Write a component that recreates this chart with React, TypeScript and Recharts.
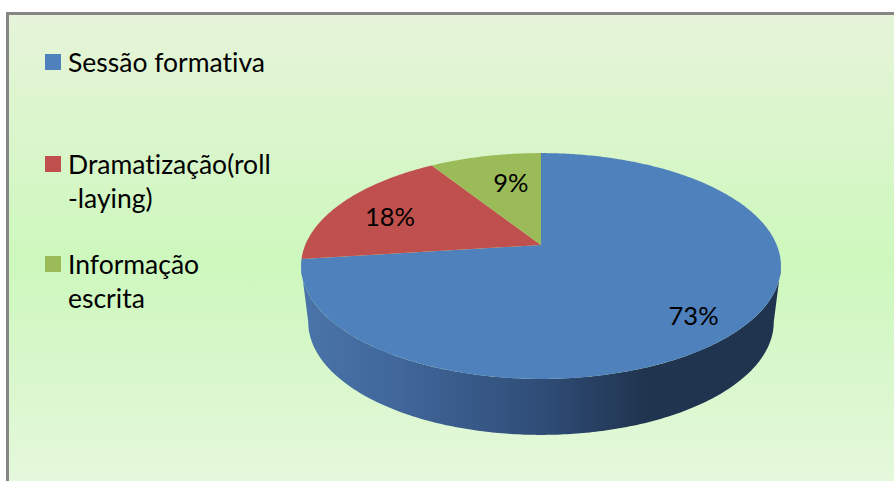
import React from "react";
import { PieChart, Pie, Legend } from "recharts";

const categories = ["Sessão formativa", "Dramatização(roll\n-laying)", "Informação\nescrita"];
const values = [73, 18, 9];
const colors = ["#4f81bd", "#c0504d", "#9bbb59"];
const tableData = categories.map((name, i) => ({ name, value: values[i], fill: colors[i] }));

const W = 894;
const H = 481;
const CX = 541;
const CY = 245;
const R = 109; // vertical half-scale of the tilted disc
const X_STRETCH = 2.163;
const PERSPECTIVE = 0.186;
const DEPTH = 56;
const BOTTOM_SCALE = 0.97;
const WALL_LEFT = -169.3; // silhouette tangent angles of the tilted rim
const WALL_RIGHT = -10.7;
const LABEL_R = [0.78, 0.75, 0.5];
const LABEL_DY = [8, 4, -15];
const LEGEND_TOP = [46, 148, 248];
const FONT = "Lato, 'Open Sans', sans-serif";
const RAD = Math.PI / 180;

// Recharts angle (degrees, counter-clockwise from 3 o'clock) to the tilted disc.
function project(cx: number, cy: number, radius: number, deg: number, r = 1) {
  const u = Math.cos(deg * RAD) * r;
  const v = -Math.sin(deg * RAD) * r;
  const d = 1 - PERSPECTIVE * v;
  return { x: cx + (radius * X_STRETCH * u) / d, y: cy + (radius * v) / d };
}
function arcPoints(cx: number, cy: number, radius: number, a0: number, a1: number) {
  const n = Math.max(2, Math.ceil(Math.abs(a1 - a0) * 1.5));
  const pts = [];
  for (let i = 0; i <= n; i++) pts.push(project(cx, cy, radius, a0 + ((a1 - a0) * i) / n));
  return pts;
}
const toPath = (pts: { x: number; y: number }[]) =>
  pts.map((p, i) => `${i ? "L" : "M"}${p.x.toFixed(2)},${p.y.toFixed(2)}`).join(" ");

function Slice(props: any) {
  const { cx, cy, outerRadius, startAngle, endAngle, fill, index } = props;
  const top = arcPoints(cx, cy, outerRadius, startAngle, endAngle);
  // Front wall: only the part of the rim facing the viewer
  const a0 = Math.max(Math.min(startAngle, endAngle), WALL_LEFT);
  const a1 = Math.min(Math.max(startAngle, endAngle), WALL_RIGHT);
  let wall = null;
  if (a1 > a0) {
    const upper = arcPoints(cx, cy, outerRadius, a0, a1);
    const lower = upper
      .slice()
      .reverse()
      .map((p) => ({ x: cx + (p.x - cx) * BOTTOM_SCALE, y: p.y + DEPTH }));
    wall = <path d={`${toPath(upper)} ${toPath(lower).replace("M", "L")} Z`} fill={`url(#wall-${index})`} />;
  }
  return (
    <g>
      <defs>
        <linearGradient id={`wall-${index}`} gradientUnits="userSpaceOnUse" x1={305} x2={778} y1={0} y2={0}>
          <stop offset="0" stopColor="#4a74a9" />
          <stop offset="0.2" stopColor="#40669a" />
          <stop offset="0.5" stopColor="#2f4d77" />
          <stop offset="0.72" stopColor="#20344f" />
          <stop offset="1" stopColor="#20344f" />
        </linearGradient>
      </defs>
      {wall}
      <path d={`M${cx},${cy} ${toPath(top).replace("M", "L")} Z`} fill={fill} />
    </g>
  );
}

function SliceLabel(props: any) {
  const { cx, cy, midAngle, index, value, outerRadius } = props;
  const p = project(cx, cy, outerRadius, midAngle, LABEL_R[index]);
  return (
    <text x={p.x} y={p.y + LABEL_DY[index]} textAnchor="middle" dominantBaseline="central" fill="#000" fontFamily={FONT} fontSize={25.5}>
      {`${value}%`}
    </text>
  );
}

function LegendContent({ payload }: any) {
  return (
    <div style={{ position: "relative", width: 300, height: 300 }}>
      {(payload || []).map((item: any, i: number) => (
        <div key={i} style={{ position: "absolute", left: 45, top: LEGEND_TOP[i], display: "flex" }}>
          <span style={{ width: 16, height: 16, marginTop: 8, marginRight: 7, background: item.color, flex: "none" }} />
          <span
            style={{
              fontFamily: FONT,
              fontSize: 26.5,
              fontVariantLigatures: "none",
              lineHeight: "33.5px",
              color: "#000",
              whiteSpace: "pre-line",
            }}
          >
            {item.value}
          </span>
        </div>
      ))}
    </div>
  );
}

export default function App() {
  return (
    <div
      style={{
        position: "absolute",
        left: 0,
        top: 0,
        width: W,
        height: H,
        background: "#fff",
        overflow: "hidden",
      }}
    >
      <div
        style={{
          position: "absolute",
          left: 6,
          top: 12,
          width: W - 6,
          height: H - 12,
          boxSizing: "border-box",
          borderLeft: "3px solid #868686",
          borderTop: "3px solid #868686",
          background: "linear-gradient(180deg, #e6f4d9 0%, #d8f6c9 30%, #cdf8bd 53%, #d8f7cb 75%, #e5f8dc 100%)",
        }}
      />
      <div style={{ position: "absolute", left: 0, top: 0 }}>
        <PieChart width={W} height={H} margin={{ top: 0, right: 0, bottom: 0, left: 0 }}>
          <Legend
            content={<LegendContent />}
            itemSorter={null}
            wrapperStyle={{ position: "absolute", left: 0, top: 0, width: 300, height: 300 }}
          />
          <Pie
            data={tableData}
            dataKey="value"
            nameKey="name"
            cx={CX}
            cy={CY}
            innerRadius={0}
            outerRadius={R}
            startAngle={90}
            endAngle={-270}
            stroke="none"
            shape={<Slice />}
            label={<SliceLabel />}
            labelLine={false}
            isAnimationActive={false}
          />
        </PieChart>
      </div>
    </div>
  );
}
